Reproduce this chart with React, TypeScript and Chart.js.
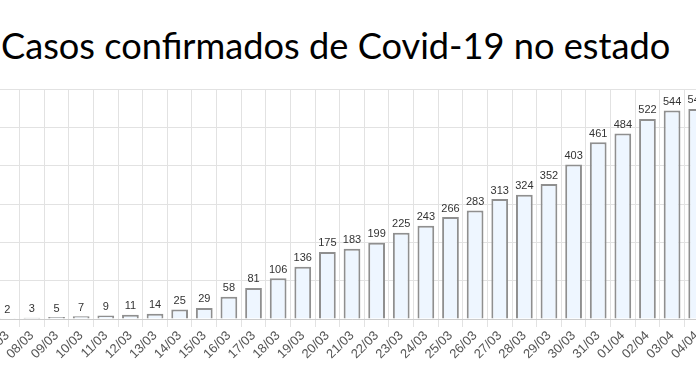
import React, { useEffect, useRef } from "react";
import { Chart, registerables } from "chart.js";

Chart.register(...registerables);

const TITLE = "Casos confirmados de Covid-19 no estado";

const categories = [
  "07/03", "08/03", "09/03", "10/03", "11/03", "12/03", "13/03", "14/03", "15/03", "16/03",
  "17/03", "18/03", "19/03", "20/03", "21/03", "22/03", "23/03", "24/03", "25/03", "26/03",
  "27/03", "28/03", "29/03", "30/03", "31/03", "01/04", "02/04", "03/04", "04/04",
];

const casos = [
  2, 3, 5, 7, 9, 11, 14, 25, 29, 58,
  81, 106, 136, 175, 183, 199, 225, 243, 266, 283,
  313, 324, 352, 403, 461, 484, 522, 544, 548,
];

const yMin = 0;
const yMax = 600;
const yStep = 100;

const dataLabels = {
  id: "dataLabels",
  afterDatasetsDraw(chart: any) {
    const ctx = chart.ctx;
    const meta = chart.getDatasetMeta(0);
    const ds = chart.data.datasets[0];
    ctx.save();
    ctx.font = '11px "Liberation Sans", Arial, sans-serif';
    ctx.fillStyle = "#333333";
    ctx.textAlign = "center";
    ctx.textBaseline = "bottom";
    meta.data.forEach((bar: any, i: number) => {
      ctx.fillText(String(ds.data[i]), bar.x, bar.y - 3);
    });
    ctx.restore();
  },
};

export default function App() {
  const ref = useRef<HTMLCanvasElement | null>(null);

  useEffect(() => {
    document.body.style.margin = "0";
    document.body.style.overflow = "hidden";
    if (!ref.current) return;
    const chart = new Chart(ref.current, {
      type: "bar",
      data: {
        labels: categories,
        datasets: [
          {
            data: casos,
            backgroundColor: "#eef6ff",
            borderColor: "#8f8f8f",
            borderWidth: 2,
            categoryPercentage: 1,
            barPercentage: 0.68,
          },
        ],
      },
      options: {
        animation: false,
        responsive: false,
        layout: { padding: { top: 9, left: 0, right: 0, bottom: 0 } },
        plugins: {
          legend: { display: false },
          tooltip: { enabled: false },
          title: { display: false },
        },
        scales: {
          x: {
            grid: {
              color: "#e2e2e2",
              offset: true,
              drawTicks: true,
              tickLength: 8,
            },
            border: { color: "#cccccc", width: 1 },
            ticks: {
              color: "#555555",
              font: { family: '"Liberation Sans", Arial, sans-serif', size: 13 },
              minRotation: 45,
              maxRotation: 45,
              autoSkip: false,
              padding: 1,
            },
            afterFit: (scale: any) => {
              scale.height = 66;
              scale.paddingLeft = 0;
              scale.paddingRight = 0;
            },
          },
          y: {
            min: yMin,
            max: yMax,
            ticks: { display: false, stepSize: yStep },
            grid: { color: "#e2e2e2", drawTicks: false },
            border: { display: false },
            afterFit: (scale: any) => {
              scale.width = 0;
            },
          },
        },
      },
      plugins: [dataLabels],
    });
    return () => chart.destroy();
  }, []);

  return (
    <div
      style={{
        position: "fixed",
        left: 0,
        top: 0,
        width: 696,
        height: 385,
        overflow: "hidden",
        background: "#ffffff",
      }}
    >
      <div
        style={{
          position: "absolute",
          left: 1,
          top: 24,
          fontFamily: 'Lato, "Open Sans", sans-serif',
          fontSize: 36.2,
          color: "#000000",
          whiteSpace: "nowrap",
          lineHeight: 1.2,
          zIndex: 2,
        }}
      >
        {TITLE}
      </div>
      <canvas
        ref={ref}
        width={714}
        height={305}
        style={{ position: "absolute", left: -5, top: 80, display: "block" }}
      />
    </div>
  );
}
